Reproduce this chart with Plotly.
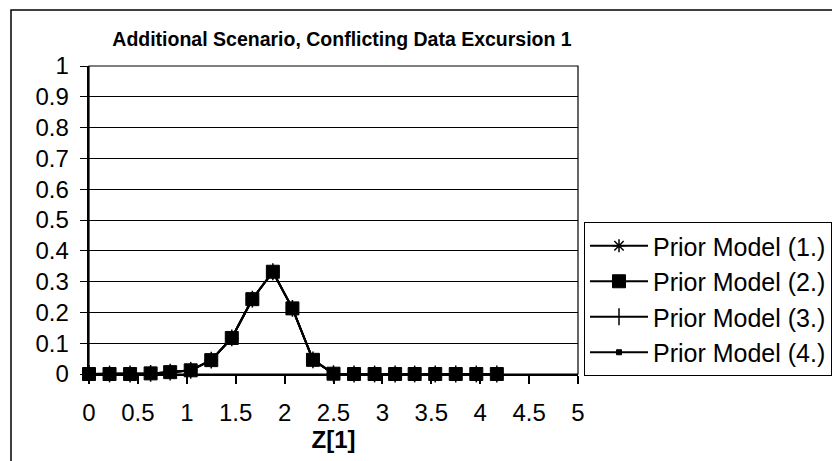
import plotly.graph_objects as go

# Z[1] grid points and probability of each prior model
z_values = [0, 0.21, 0.42, 0.63, 0.83, 1.04, 1.25, 1.46, 1.67, 1.88, 2.08,
            2.29, 2.5, 2.71, 2.92, 3.13, 3.33, 3.54, 3.75, 3.96, 4.17]
prior_1 = [0, 0, 0, 0.002, 0.006, 0.012, 0.045, 0.117, 0.243, 0.332, 0.213,
           0.046, 0.001, 0, 0, 0, 0, 0, 0, 0, 0]
prior_2 = list(prior_1)
prior_3 = list(prior_1)
prior_4 = list(prior_1)

series_names = ["Prior Model (1.)", "Prior Model (2.)", "Prior Model (3.)", "Prior Model (4.)"]
x_ticks = [0, 0.5, 1, 1.5, 2, 2.5, 3, 3.5, 4, 4.5, 5]
y_ticks = [0, 0.1, 0.2, 0.3, 0.4, 0.5, 0.6, 0.7, 0.8, 0.9, 1]

FONT = "Liberation Sans, Arial, sans-serif"
W, H = 832, 461
L, R, T, B = 89, 254, 66, 87
pw, ph = W - L - R, H - T - B

markers = [
    dict(symbol="asterisk-open", size=11, color="black", line=dict(color="black", width=1.5)),
    dict(symbol="square", size=13, color="black", line=dict(color="black", width=1)),
    dict(symbol="line-ns-open", size=12, color="black", line=dict(color="black", width=1.5)),
    dict(symbol="square", size=5, color="black", line=dict(color="black", width=1)),
]
series = list(zip(series_names, [prior_1, prior_2, prior_3, prior_4], markers))

fig = go.Figure()
# the square-marker series is drawn last so it sits on top; legend keeps 1..4 order
for rank in [0, 2, 3, 1]:
    name, vals, mk = series[rank]
    fig.add_trace(go.Scatter(
        x=z_values, y=vals, name=name, mode="lines+markers", legendrank=rank + 1,
        line=dict(color="black", width=2), marker=mk, cliponaxis=False,
    ))

def px_x(p):
    return (p - L) / pw

def px_y(p):
    return (H - B - p) / ph

shapes = [
    # outer chart border (runs off the right and bottom edges)
    dict(type="rect", xref="paper", yref="paper",
         x0=px_x(11), x1=px_x(W + 20), y0=px_y(H + 20), y1=px_y(10),
         line=dict(color="black", width=1.5), fillcolor="rgba(0,0,0,0)", layer="below"),
    # plot area frame
    dict(type="rect", xref="paper", yref="paper", x0=0, x1=1, y0=0, y1=1,
         line=dict(color="black", width=1.2), fillcolor="rgba(0,0,0,0)", layer="below"),
]

NBSP = "\u00a0"

fig.update_layout(
    width=W, height=H,
    margin=dict(l=L, r=R, t=T, b=B, pad=0, autoexpand=False),
    paper_bgcolor="white", plot_bgcolor="white",
    font=dict(family=FONT, color="black", size=24),
    title=dict(text="<b>Additional Scenario, Conflicting Data Excursion 1</b>",
               xref="container", x=342 / W, xanchor="center",
               yref="container", y=1 - 39 / H, yanchor="middle",
               font=dict(size=19.5, family=FONT)),
    showlegend=True,
    legend=dict(xref="container", x=584 / W, xanchor="left",
                yref="container", y=(H - 376) / H, yanchor="bottom",
                bordercolor="black", borderwidth=1, bgcolor="white",
                font=dict(size=25, family=FONT), itemwidth=58,
                tracegroupgap=0, traceorder="normal"),
    shapes=shapes,
    xaxis=dict(range=[0, 5], tickvals=x_ticks, ticktext=[f"{v:g}" for v in x_ticks],
               showgrid=False, zeroline=False, showline=True, linecolor="black", linewidth=1.5,
               ticks="outside", ticklen=8, tickcolor="black", tickwidth=1.5,
               tickfont=dict(size=24), ticklabelstandoff=8, fixedrange=True, automargin=False,
               title=dict(text="<b>Z[1]</b>", font=dict(size=24), standoff=0)),
    yaxis=dict(range=[0, 1], tickvals=y_ticks, ticktext=[f"{v:g}{NBSP}" for v in y_ticks],
               showgrid=True, gridcolor="black", gridwidth=1, zeroline=False,
               showline=True, linecolor="black", linewidth=1.5,
               ticks="outside", ticklen=7, tickcolor="black", tickwidth=1,
               tickfont=dict(size=24), fixedrange=True, automargin=False),
)

fig.write_html("out.html")
